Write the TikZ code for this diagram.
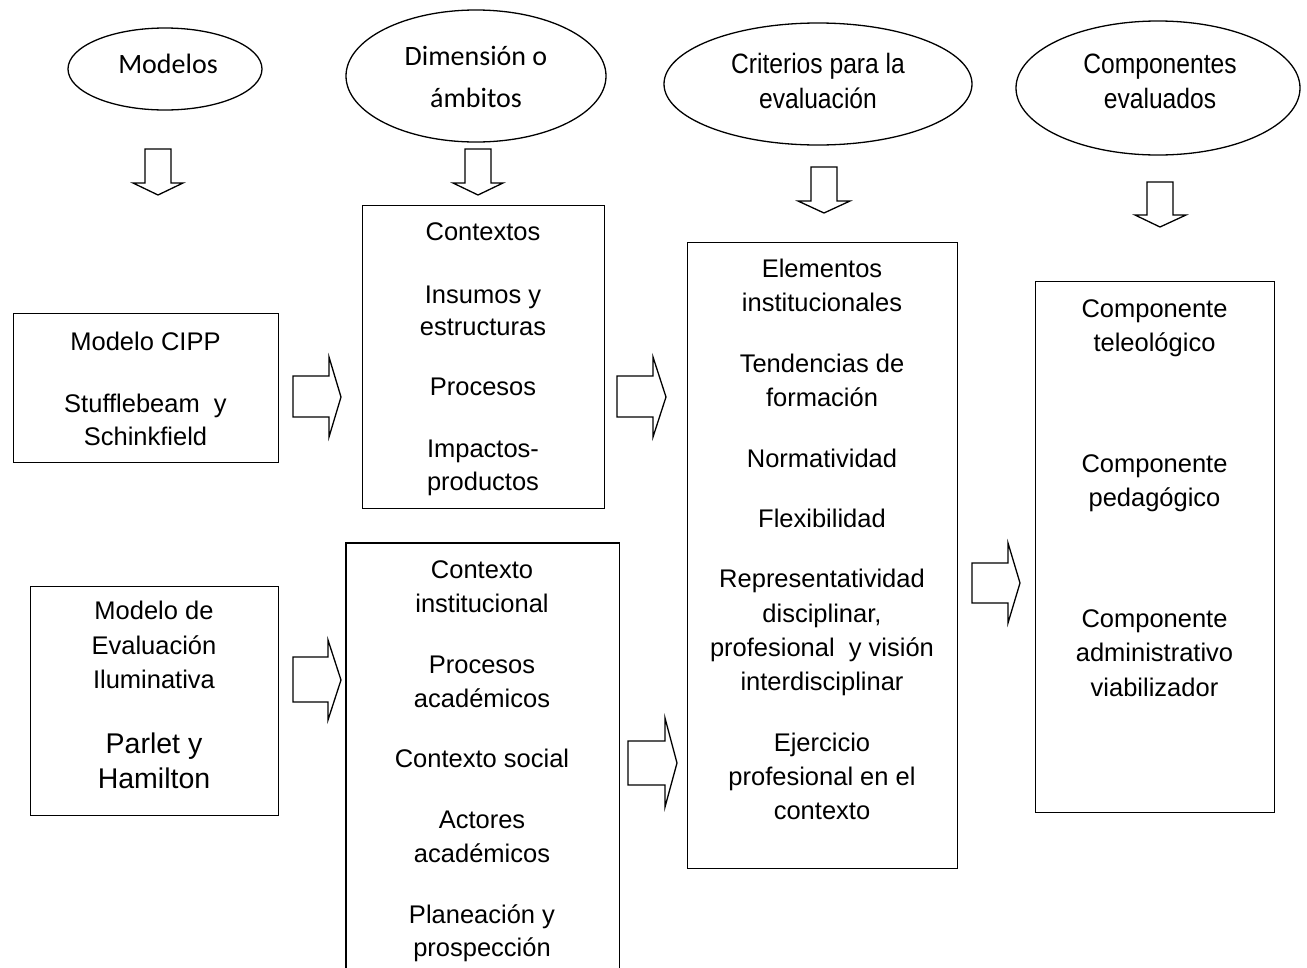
\documentclass[tikz,border=0pt]{standalone}
\usepackage{fontspec}
\setmainfont{Liberation Sans}
\newfontfamily\calf{Carlito}
\newfontfamily\narrowf[FakeStretch=0.88]{Liberation Sans}
\usetikzlibrary{shapes.geometric}
\begin{document}
\begin{tikzpicture}[x=1pt,y=-1pt,
  line width=1.3pt,
  oval/.style={draw, ellipse, inner sep=0pt},
  box/.style={draw, rectangle, anchor=north west, inner sep=0pt},
  txt/.style={anchor=base, inner sep=0pt, font=\fontsize{25.5}{30}\selectfont},
  big/.style={anchor=base, inner sep=0pt, font=\fontsize{28.5}{34}\selectfont},
  ctxt/.style={anchor=base, inner sep=0pt, font=\calf\fontsize{28}{34}\selectfont},
  ntxt/.style={anchor=base, inner sep=0pt, font=\narrowf\fontsize{28}{34}\selectfont},
  blk/.style={draw, line join=miter, fill=white}]
\useasboundingbox (0,0) rectangle (1307,967);
\fill[white] (0,0) rectangle (1307,967);

% ellipses
\node[oval, minimum width=194pt, minimum height=82pt] (e1) at (165,69) {};
\node[oval, minimum width=260pt, minimum height=132pt] (e2) at (476,76) {};
\node[oval, minimum width=308pt, minimum height=122pt] (e3) at (818,84) {};
\node[oval, minimum width=284pt, minimum height=134pt] (e4) at (1158,88) {};
\node[ctxt] (e1a) at (168,73) {Modelos};
\node[ctxt] (e2a) at (476,65) {Dimensión o};
\node[ctxt] (e2b) at (476,107) {ámbitos};
\node[ntxt] (e3a) at (818,73) {Criterios para la};
\node[ntxt] (e3b) at (818,108) {evaluación};
\node[ntxt] (e4a) at (1160,73) {Componentes};
\node[ntxt] (e4b) at (1160,108) {evaluados};

% boxes
\node[box, minimum width=265pt, minimum height=149pt] (cipp) at (13,313) {};
\node[box, minimum width=242pt, minimum height=303pt] (ctx) at (362,205) {};
\node[box, minimum width=270pt, minimum height=626pt] (elem) at (687,242) {};
\node[box, minimum width=239pt, minimum height=531pt] (comp) at (1035,281) {};
\node[box, minimum width=248pt, minimum height=229pt] (ilum) at (30,586) {};
\node[anchor=north west, inner sep=0pt, minimum width=272pt, minimum height=430pt] (inst) at (346,543) {};
\draw (inst.south west) -- (inst.north west) -- (inst.north east) -- (inst.south east);

% CIPP texts
\node[txt] (c1) at (145.5,350) {Modelo CIPP};
\node[txt] (c2) at (145.5,412) {Stufflebeam\ \ y};
\node[txt] (c3) at (145.5,445) {Schinkfield};

% Contextos texts
\node[txt] (x1) at (483,240) {Contextos};
\node[txt] (x2) at (483,303) {Insumos y};
\node[txt] (x3) at (483,335) {estructuras};
\node[txt] (x4) at (483,395) {Procesos};
\node[txt] (x5) at (483,457) {Impactos-};
\node[txt] (x6) at (483,490) {productos};

% Elementos texts
\node[txt] (m1) at (822,277) {Elementos};
\node[txt] (m2) at (822,311) {institucionales};
\node[txt] (m3) at (822,372) {Tendencias de};
\node[txt] (m4) at (822,406) {formación};
\node[txt] (m5) at (822,467) {Normatividad};
\node[txt] (m6) at (822,527) {Flexibilidad};
\node[txt] (m7) at (822,587) {Representatividad};
\node[txt] (m8) at (822,622) {disciplinar,};
\node[txt] (m9) at (822,656) {profesional\ \ y visión};
\node[txt] (m10) at (822,690) {interdisciplinar};
\node[txt] (m11) at (822,751) {Ejercicio};
\node[txt] (m12) at (822,785) {profesional en el};
\node[txt] (m13) at (822,819) {contexto};

% Componentes texts
\node[txt] (p1) at (1154.5,317) {Componente};
\node[txt] (p2) at (1154.5,351) {teleológico};
\node[txt] (p3) at (1154.5,472) {Componente};
\node[txt] (p4) at (1154.5,506) {pedagógico};
\node[txt] (p5) at (1154.5,627) {Componente};
\node[txt] (p6) at (1154.5,661) {administrativo};
\node[txt] (p7) at (1154.5,696) {viabilizador};

% Iluminativa texts
\node[txt] (i1) at (154,619) {Modelo de};
\node[txt] (i2) at (154,654) {Evaluación};
\node[txt] (i3) at (154,688) {Iluminativa};
\node[big] (i4) at (154,753) {Parlet y};
\node[big] (i5) at (154,788) {Hamilton};

% Contexto institucional texts
\node[txt] (s1) at (482,578) {Contexto};
\node[txt] (s2) at (482,612) {institucional};
\node[txt] (s3) at (482,673) {Procesos};
\node[txt] (s4) at (482,707) {académicos};
\node[txt] (s5) at (482,767) {Contexto social};
\node[txt] (s6) at (482,828) {Actores};
\node[txt] (s7) at (482,862) {académicos};
\node[txt] (s8) at (482,923) {Planeación y};
\node[txt] (s9) at (482,956) {prospección};

% down block arrows
\draw[blk] (145,149) -- (171,149) -- (171,183) -- (183,183) -- (158,195) -- (133,183) -- (145,183) -- cycle;
\draw[blk] (465,149) -- (491,149) -- (491,183) -- (503,183) -- (478,195) -- (453,183) -- (465,183) -- cycle;
\draw[blk] (811,167) -- (837,167) -- (837,201) -- (850,201) -- (824,213) -- (798,201) -- (811,201) -- cycle;
\draw[blk] (1147,182) -- (1173,182) -- (1173,215) -- (1186,215) -- (1160,227) -- (1135,215) -- (1147,215) -- cycle;

% right block arrows
\draw[blk] (293,376) -- (329,376) -- (329,357) -- (341,397) -- (329,437) -- (329,417) -- (293,417) -- cycle;
\draw[blk] (617,376) -- (653,376) -- (653,357) -- (666,397) -- (653,437) -- (653,417) -- (617,417) -- cycle;
\draw[blk] (293,657) -- (328,657) -- (328,640) -- (341,680) -- (328,720) -- (328,702) -- (293,702) -- cycle;
\draw[blk] (628,741) -- (665,741) -- (665,718) -- (677,763) -- (665,807) -- (665,785) -- (628,785) -- cycle;
\draw[blk] (972,563) -- (1008,563) -- (1008,543) -- (1020,583) -- (1008,623) -- (1008,603) -- (972,603) -- cycle;
\end{tikzpicture}
\end{document}
